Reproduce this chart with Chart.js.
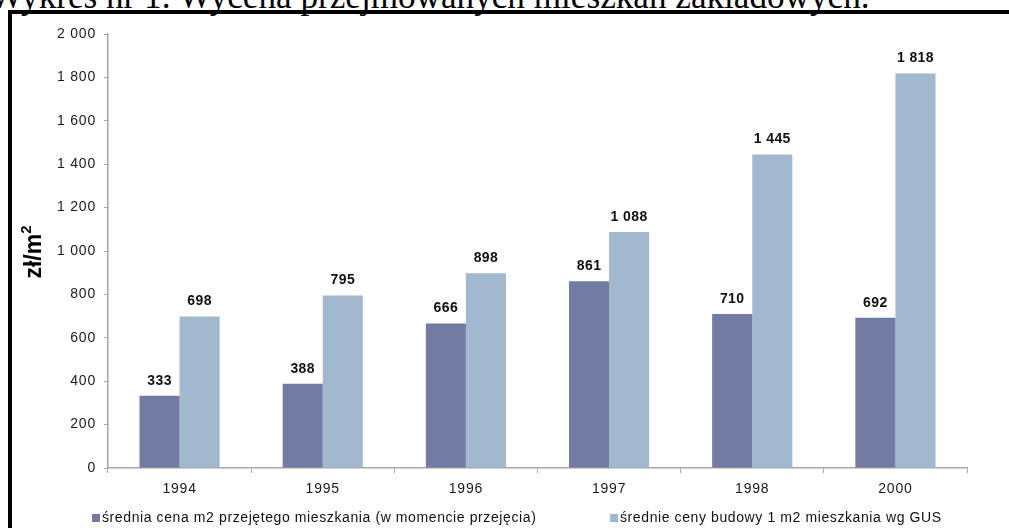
<!DOCTYPE html>
<html>
<head>
<meta charset="utf-8">
<script src="https://cdn.jsdelivr.net/npm/chart.js@4.4.0/dist/chart.umd.min.js"></script>
<style>
  html, body { margin: 0; padding: 0; background: #fff; overflow: hidden; }
  body { width: 1009px; height: 528px; position: relative; }
  #title {
    position: absolute; left: -10px; top: -21px;
    font-family: 'Liberation Serif', 'Times New Roman', serif;
    font-size: 28px; line-height: 1; white-space: nowrap; color: #000;
  }
  #box {
    position: absolute; left: 8px; top: 10px; width: 1010px; height: 530px;
    border-left: 4px solid #000; border-top: 4px solid #000;
  }
  #wrap { position: absolute; left: 12px; top: 14px; width: 997px; height: 514px; }
</style>
</head>
<body>
<div id="title">Wykres nr 1. Wycena przejmowanych mieszkań zakładowych.</div>
<div id="box"></div>
<div id="wrap"><canvas id="c"></canvas></div>
<script>
// data
const years = ['1994', '1995', '1996', '1997', '1998', '2000'];
const takenOverPrice = [333, 388, 666, 861, 710, 692];
const gusBuildCost = [698, 795, 898, 1088, 1445, 1818];
const seriesNames = [
  'średnia cena m2 przejętego mieszkania (w momencie przejęcia)',
  'średnie ceny budowy 1 m2 mieszkania wg GUS'
];
const yTicks = [0, 200, 400, 600, 800, 1000, 1200, 1400, 1600, 1800, 2000];

const DARK = '#727ba2';
const LIGHT = '#a2b8cf';
const FONT = "'Liberation Sans', Arial, sans-serif";

// stretch the page title to the width it has in the scan
(function () {
  const t = document.getElementById('title');
  const w = t.getBoundingClientRect().width;
  t.style.fontSize = (28 * 880 / w).toFixed(2) + 'px';
})();

const fmt = v => {
  const s = String(Math.round(v));
  return s.length > 3 ? s.slice(0, -3) + ' ' + s.slice(-3) : s;
};

// the scan's tick text is slightly letter-spaced
const spacing = {
  id: 'spacing',
  beforeDraw(chart) { chart.ctx.letterSpacing = '0.8px'; },
  afterDraw(chart) { chart.ctx.letterSpacing = '0px'; }
};

const valueLabels = {
  id: 'valueLabels',
  afterDatasetsDraw(chart) {
    const {ctx} = chart;
    ctx.save();
    ctx.letterSpacing = '0.4px';
    ctx.font = 'bold 14px ' + FONT;
    ctx.fillStyle = '#111';
    ctx.textAlign = 'center';
    ctx.textBaseline = 'bottom';
    chart.data.datasets.forEach((ds, i) => {
      chart.getDatasetMeta(i).data.forEach((bar, j) => {
        ctx.fillText(fmt(ds.data[j]), bar.x, bar.y - 8);
      });
    });
    ctx.restore();
  }
};

const yTitle = {
  id: 'yTitle',
  afterDraw(chart) {
    const {ctx} = chart;
    ctx.save();
    ctx.letterSpacing = '0px';
    ctx.translate(23, 238);
    ctx.rotate(-Math.PI / 2);
    ctx.fillStyle = '#000';
    ctx.textBaseline = 'middle';
    ctx.font = 'bold 23px ' + FONT;
    const main = 'zł/m';
    const w1 = ctx.measureText(main).width;
    ctx.font = 'bold 15px ' + FONT;
    const w2 = ctx.measureText('2').width;
    const x0 = -(w1 + w2) / 2;
    ctx.font = 'bold 23px ' + FONT;
    ctx.fillText(main, x0, 0);
    ctx.font = 'bold 15px ' + FONT;
    ctx.fillText('2', x0 + w1, -8);
    ctx.restore();
  }
};

const legendRow = {
  id: 'legendRow',
  afterDraw(chart) {
    const {ctx} = chart;
    ctx.save();
    ctx.letterSpacing = '0.6px';
    ctx.font = '14px ' + FONT;
    ctx.textBaseline = 'middle';
    const starts = [80, 598];
    chart.data.datasets.forEach((ds, i) => {
      const x = starts[i];
      ctx.fillStyle = ds.backgroundColor;
      ctx.fillRect(x, 500, 8, 8);
      ctx.fillStyle = '#111';
      ctx.fillText(ds.label, x + 10, 504);
    });
    ctx.restore();
  }
};

new Chart(document.getElementById('c'), {
  type: 'bar',
  data: {
    labels: years,
    datasets: [
      {label: seriesNames[0], data: takenOverPrice, backgroundColor: DARK},
      {label: seriesNames[1], data: gusBuildCost, backgroundColor: LIGHT}
    ]
  },
  options: {
    responsive: true,
    maintainAspectRatio: false,
    animation: false,
    categoryPercentage: 0.56,
    barPercentage: 1.0,
    layout: {padding: {top: 20, right: 42, bottom: 30, left: 0}},
    plugins: {
      legend: {display: false},
      tooltip: {enabled: false}
    },
    scales: {
      x: {
        grid: {display: true, drawOnChartArea: false, offset: true, color: '#a6a6a6', tickLength: 5},
        border: {color: '#a6a6a6', width: 1.5},
        ticks: {color: '#1a1a1a', font: {family: FONT, size: 14}, padding: 8},
        afterFit: s => { s.height = 30; }
      },
      y: {
        min: 0,
        max: 2000,
        afterBuildTicks: s => { s.ticks = yTicks.map(v => ({value: v})); },
        grid: {display: true, drawOnChartArea: false, color: '#a6a6a6', tickLength: 4},
        border: {color: '#a6a6a6', width: 1.5},
        ticks: {color: '#1a1a1a', font: {family: FONT, size: 14}, padding: 8, callback: v => fmt(v)},
        afterFit: s => { s.width = 96; }
      }
    }
  },
  plugins: [spacing, valueLabels, yTitle, legendRow]
});
</script>
</body>
</html>
